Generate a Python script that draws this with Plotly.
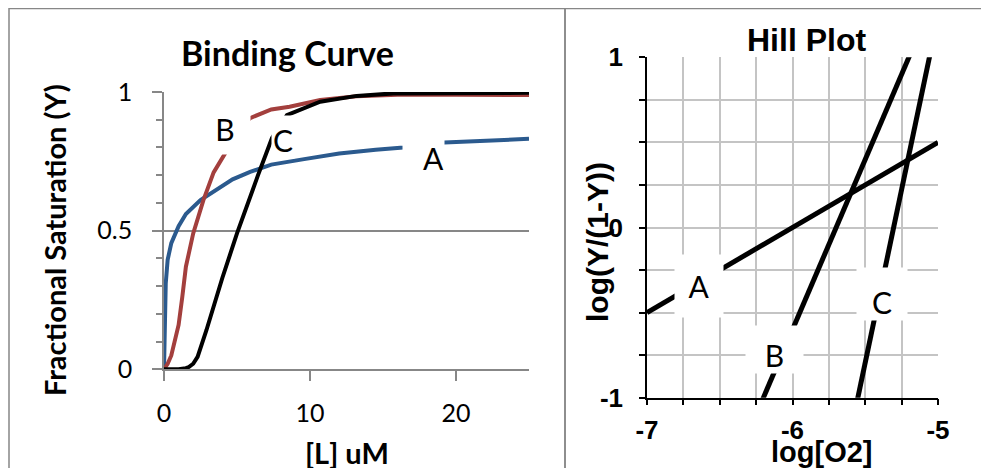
import plotly.graph_objects as go

# page body has an 8px margin: the figure is sized and positioned to compensate
OFF = 8
W, H = 989 - OFF, 468 - OFF

# ---- Binding curve data ----
conc_A = [0, 0.05, 0.12, 0.25, 0.5, 1.0, 1.5, 2.5, 3.5, 4.7, 5.9, 7.35, 9.6, 12.0, 14.5, 16.4, 19.2, 25]
sat_A = [0, 0.22, 0.31, 0.395, 0.455, 0.516, 0.56, 0.61, 0.645, 0.685, 0.712, 0.738, 0.758, 0.778, 0.792, 0.80, 0.818, 0.831]

conc_B = [0, 0.25, 0.5, 0.75, 1.0, 1.25, 1.5, 2.0, 2.7, 3.4, 4.18, 5.0, 5.9, 7.35, 8.6, 10.7, 13.2, 16, 20, 25]
sat_B = [0, 0.02, 0.05, 0.1, 0.16, 0.26, 0.37, 0.49, 0.61, 0.71, 0.777, 0.85, 0.906, 0.937, 0.947, 0.971, 0.985, 0.99, 0.99, 0.989]

conc_C = [0, 1.0, 1.5, 1.7, 2.0, 2.3, 2.9, 4.0, 5.0, 6.0, 6.44, 7.4, 8.42, 10.7, 13.2, 15.7, 20, 25]
sat_C = [0, 0.0, 0.004, 0.008, 0.02, 0.045, 0.14, 0.33, 0.49, 0.64, 0.70, 0.834, 0.917, 0.965, 0.986, 0.995, 0.997, 0.997]

# ---- Hill plot data ----
logO2_A = [-7.0, -5.0]
hill_A = [-0.5, 0.5]
logO2_B = [-6.3, -5.1]
hill_B = [-1.2, 1.2]
logO2_C = [-5.6, -5.0]
hill_C = [-1.2, 1.24]

# tick labels
bind_x_ticks = [0, 10, 20]
bind_y_ticks = [0, 0.5, 1]
bind_y_text = ["0", "0.5", "1"]
hill_x_ticks = [-7, -6, -5]
hill_x_text = ["-7", "-6", "-5"]
hill_y_ticks = [-1, 0, 1]
hill_y_text = ["-1", "0", "1"]

CAL = "Lato"
ARI = "Liberation Sans"
GRID_L = "#878787"
GRID_R = "#c4c4c4"

fig = go.Figure()
fig.add_trace(go.Scatter(x=conc_A, y=sat_A, mode="lines", line=dict(color="#2B5A8E", width=4), xaxis="x", yaxis="y"))
fig.add_trace(go.Scatter(x=conc_B, y=sat_B, mode="lines", line=dict(color="#A33F3D", width=4), xaxis="x", yaxis="y"))
fig.add_trace(go.Scatter(x=conc_C, y=sat_C, mode="lines", line=dict(color="#000000", width=4), xaxis="x", yaxis="y"))

fig.add_trace(go.Scatter(x=logO2_A, y=hill_A, mode="lines", line=dict(color="#000000", width=5), xaxis="x2", yaxis="y2"))
fig.add_trace(go.Scatter(x=logO2_B, y=hill_B, mode="lines", line=dict(color="#000000", width=5), xaxis="x2", yaxis="y2"))
fig.add_trace(go.Scatter(x=logO2_C, y=hill_C, mode="lines", line=dict(color="#000000", width=5), xaxis="x2", yaxis="y2"))


def px_x(p):
    return (p - OFF) / W


def px_y(p):
    return 1 - (p - OFF) / H


fig.update_layout(
    width=W, height=H,
    margin=dict(l=0, r=0, t=0, b=0, pad=0, autoexpand=False),
    paper_bgcolor="white", plot_bgcolor="white",
    showlegend=False,
    xaxis=dict(
        domain=[px_x(164), px_x(529)], range=[0, 25], anchor="y", automargin=False,
        tickvals=bind_x_ticks, ticks="outside", ticklen=10, tickwidth=1.5, tickcolor=GRID_L,
        showline=True, linecolor=GRID_L, linewidth=1.5, showgrid=False, zeroline=False,
        tickfont=dict(family=CAL, size=25, color="black"), ticklabelstandoff=11,
    ),
    yaxis=dict(
        domain=[px_y(369.3), px_y(92)], range=[0, 1], anchor="x", automargin=False,
        tickvals=bind_y_ticks, ticktext=bind_y_text, ticks="outside", ticklen=10, tickwidth=1.5, tickcolor=GRID_L,
        minor=dict(dtick=0.1, tick0=0, ticks="outside", ticklen=6, tickwidth=1.5, tickcolor=GRID_L, showgrid=False),
        showline=True, linecolor=GRID_L, linewidth=1.5, showgrid=True, gridcolor=GRID_L, gridwidth=1.5,
        zeroline=False, tickfont=dict(family=CAL, size=25, color="black"), ticklabelstandoff=15,
    ),
    xaxis2=dict(
        domain=[px_x(647), px_x(938)], range=[-7, -5], anchor="y2", automargin=False,
        tickvals=hill_x_ticks, ticktext=hill_x_text, ticks="outside", ticklen=6, tickwidth=1.5, tickcolor="black",
        minor=dict(dtick=0.25, tick0=-7, ticks="outside", ticklen=6, tickwidth=1.5, tickcolor="black",
                   showgrid=True, gridcolor=GRID_R, gridwidth=2),
        showline=True, linecolor="black", linewidth=1.5, showgrid=True, gridcolor=GRID_R, gridwidth=2,
        zeroline=False, tickfont=dict(family=ARI, size=26, color="black", weight="bold"), ticklabelstandoff=2,
    ),
    yaxis2=dict(
        domain=[px_y(397.7), px_y(57.3)], range=[-1, 1], anchor="x2", automargin=False,
        tickvals=hill_y_ticks, ticktext=hill_y_text, ticks="outside", ticklen=6, tickwidth=1.5, tickcolor="black",
        minor=dict(dtick=0.25, tick0=-1, ticks="outside", ticklen=6, tickwidth=1.5, tickcolor="black",
                   showgrid=True, gridcolor=GRID_R, gridwidth=2),
        showline=True, linecolor="black", linewidth=1.5, showgrid=True, gridcolor=GRID_R, gridwidth=2,
        zeroline=False, tickfont=dict(family=ARI, size=26, color="black", weight="bold"), ticklabelstandoff=11,
    ),
)

# panel borders
fig.add_shape(type="rect", xref="paper", yref="paper", x0=px_x(9), x1=px_x(565), y0=-0.05, y1=px_y(8.5),
              line=dict(color=GRID_L, width=1.5), fillcolor="rgba(0,0,0,0)")
fig.add_shape(type="rect", xref="paper", yref="paper", x0=px_x(565), x1=px_x(982), y0=-0.05, y1=px_y(8.5),
              line=dict(color=GRID_L, width=1.5), fillcolor="rgba(0,0,0,0)")


def title(text, x, y, fam, size, angle=0):
    fig.add_annotation(text=text, xref="paper", yref="paper", x=px_x(x), y=px_y(y),
                       xanchor="center", yanchor="middle", showarrow=False, textangle=angle,
                       font=dict(family=fam, size=size, color="black", weight="bold"))


title("Binding Curve", 287, 52, CAL, 34)
title("[L] uM", 346.5, 452, CAL, 29)
title("Fractional Saturation (Y)", 54, 240, CAL, 29, -90)
title("Hill Plot", 806, 40, ARI, 32)
title("log[O2]", 822, 452, ARI, 29)
title("log(Y/(1-Y))", 598, 242, ARI, 30, -90)


def label(text, x, y, xr, yr, w, h, align="center", valign="middle"):
    fig.add_annotation(text=text, xref=xr, yref=yr, x=x, y=y, xanchor="center", yanchor="middle",
                       showarrow=False, bgcolor="white", width=w, height=h, align=align, valign=valign,
                       borderpad=0, font=dict(family=CAL, size=30, color="black"))


label("A", 17.77, 0.762, "x", "y", 41, 40, align="right")
label("B", 4.18, 0.868, "x", "y", 50, 51)
label("C", 8.15, 0.838, "x", "y", 22, 42, valign="bottom")

label("A", -6.643, -0.344, "x2", "y2", 48, 62)
label("B", -6.124, -0.717, "x2", "y2", 57, 47, valign="bottom")
label("C", -5.385, -0.391, "x2", "y2", 50, 52, valign="bottom")

fig.write_html("out.html")
